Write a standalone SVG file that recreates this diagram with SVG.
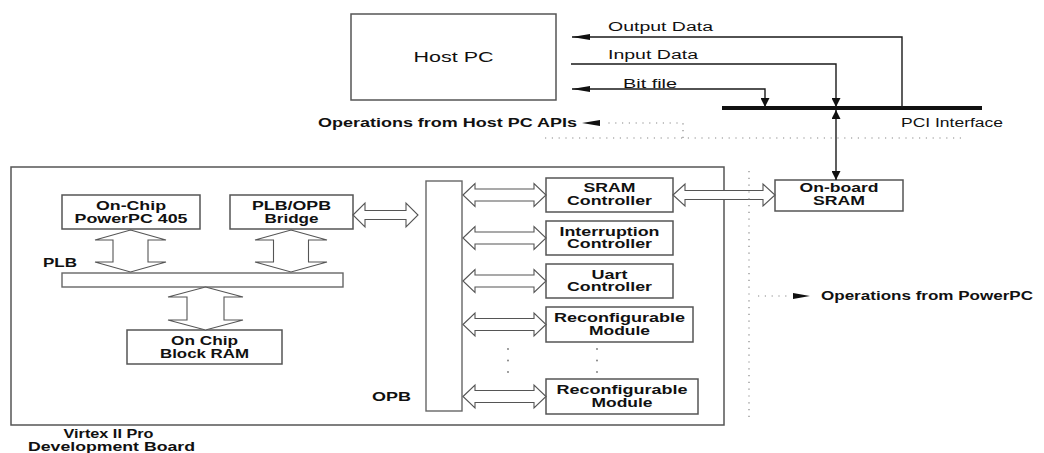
<svg xmlns="http://www.w3.org/2000/svg" width="1044" height="453" viewBox="0 0 1044 453">
  <style>
    .box { fill: #fff; stroke: #555; stroke-width: 1.5; }
    .bar { fill: #fff; stroke: #666; stroke-width: 1.4; }
    .wire { fill: none; stroke: #1a1a1a; stroke-width: 1.4; }
    .bus { fill: none; stroke: #111; stroke-width: 4; }
    .hollow { fill: #fff; stroke: #555; stroke-width: 1.1; stroke-linejoin: miter; }
    .dots { fill: none; stroke: #888; stroke-width: 1.2; stroke-dasharray: 1.2 5.6; }
    .head { fill: #111; }
    .pt { fill: #777; }
    text { font-family: "Liberation Sans", Arial, Helvetica, sans-serif; fill: #111; }
    .b { font-weight: bold; font-size: 12px; }
    .n { font-weight: normal; font-size: 12px; }
    .c { text-anchor: middle; }
  </style>
  <defs>
    <marker id="slim" viewBox="0 0 18 6" refX="18" refY="3" markerWidth="18" markerHeight="6" markerUnits="userSpaceOnUse" orient="auto-start-reverse">
      <path d="M0,0 L18,3 L0,6 Z" fill="#111"/>
    </marker>
    <marker id="tri" viewBox="0 0 9 9" refX="9" refY="4.5" markerWidth="9" markerHeight="9" markerUnits="userSpaceOnUse" orient="auto-start-reverse">
      <path d="M0,0 L9,4.5 L0,9 Z" fill="#111"/>
    </marker>
    <!-- hollow double arrow between the OPB bar and a peripheral, centred on y=0 -->
    <path id="opbLink" d="M463,0 L475,-11.5 L475,-6 L534,-6 L534,-11.5 L546,0 L534,11.5 L534,6 L475,6 L475,11.5 Z"/>
  </defs>

  <!-- host side -->
  <g id="host-pc">
    <rect class="box" x="351" y="14" width="205" height="86"/>
    <text class="n c" x="453.5" y="62" style="font-size:14px" textLength="80" lengthAdjust="spacingAndGlyphs">Host PC</text>
  </g>

  <g id="pci-interface">
    <line class="bus" x1="722" y1="108" x2="982" y2="108"/>
    <text class="n" x="901" y="127" textLength="102" lengthAdjust="spacingAndGlyphs">PCI Interface</text>
  </g>

  <!-- Virtex board -->
  <g id="virtex-board">
    <rect class="box" x="11" y="167" width="713" height="258"/>
    <text class="b c" x="108.5" y="438" textLength="90" lengthAdjust="spacingAndGlyphs">Virtex II Pro</text>
    <text class="b c" x="111.5" y="451" textLength="167" lengthAdjust="spacingAndGlyphs">Development Board</text>
  </g>

  <g id="powerpc">
    <rect class="box" x="62" y="195" width="138" height="34"/>
    <text class="b c" x="131" y="210" textLength="70" lengthAdjust="spacingAndGlyphs">On-Chip</text>
    <text class="b c" x="131" y="222.5" textLength="113" lengthAdjust="spacingAndGlyphs">PowerPC 405</text>
  </g>

  <g id="plb-opb-bridge">
    <rect class="box" x="230" y="195" width="123" height="34"/>
    <text class="b c" x="291.5" y="210" textLength="79" lengthAdjust="spacingAndGlyphs">PLB/OPB</text>
    <text class="b c" x="291.5" y="222.5" textLength="54" lengthAdjust="spacingAndGlyphs">Bridge</text>
  </g>

  <g id="plb">
    <rect class="bar" x="62" y="273" width="281" height="14"/>
    <text class="b" x="43" y="267" textLength="34" lengthAdjust="spacingAndGlyphs">PLB</text>
  </g>

  <g id="block-ram">
    <rect class="box" x="127" y="330" width="155" height="34"/>
    <text class="b c" x="204.5" y="345" textLength="67" lengthAdjust="spacingAndGlyphs">On Chip</text>
    <text class="b c" x="204.5" y="357.5" textLength="89" lengthAdjust="spacingAndGlyphs">Block RAM</text>
  </g>

  <g id="opb">
    <rect class="bar" x="426" y="181" width="36" height="230"/>
    <text class="b" x="411" y="401" text-anchor="end" textLength="39" lengthAdjust="spacingAndGlyphs">OPB</text>
  </g>

  <g id="sram-controller">
    <rect class="box" x="546" y="178" width="127" height="34"/>
    <text class="b c" x="609.5" y="192" textLength="52" lengthAdjust="spacingAndGlyphs">SRAM</text>
    <text class="b c" x="609.5" y="205" textLength="85" lengthAdjust="spacingAndGlyphs">Controller</text>
  </g>

  <g id="interruption-controller">
    <rect class="box" x="546" y="221" width="127" height="34"/>
    <text class="b c" x="609.5" y="235.5" textLength="100" lengthAdjust="spacingAndGlyphs">Interruption</text>
    <text class="b c" x="609.5" y="248" textLength="85" lengthAdjust="spacingAndGlyphs">Controller</text>
  </g>

  <g id="uart-controller">
    <rect class="box" x="546" y="264" width="127" height="34"/>
    <text class="b c" x="609.5" y="278.5" textLength="36" lengthAdjust="spacingAndGlyphs">Uart</text>
    <text class="b c" x="609.5" y="291" textLength="85" lengthAdjust="spacingAndGlyphs">Controller</text>
  </g>

  <g id="reconfigurable-module-1">
    <rect class="box" x="546" y="307" width="147" height="35"/>
    <text class="b c" x="619.5" y="322" textLength="131" lengthAdjust="spacingAndGlyphs">Reconfigurable</text>
    <text class="b c" x="619.5" y="334.5" textLength="61" lengthAdjust="spacingAndGlyphs">Module</text>
  </g>

  <g id="reconfigurable-module-n">
    <rect class="box" x="546" y="379" width="152" height="35"/>
    <text class="b c" x="622" y="394" textLength="131" lengthAdjust="spacingAndGlyphs">Reconfigurable</text>
    <text class="b c" x="622" y="406.5" textLength="61" lengthAdjust="spacingAndGlyphs">Module</text>
  </g>

  <g id="onboard-sram">
    <rect class="box" x="775" y="180" width="128" height="31"/>
    <text class="b c" x="839" y="192" textLength="79" lengthAdjust="spacingAndGlyphs">On-board</text>
    <text class="b c" x="839" y="205" textLength="52" lengthAdjust="spacingAndGlyphs">SRAM</text>
  </g>

  <!-- connectors -->
  <g id="connectors">
    <!-- host <-> PCI -->
    <path class="wire" d="M902,108 V37 H572" marker-end="url(#slim)"/>
    <path class="wire" d="M571,64 H836 V107" marker-end="url(#tri)"/>
    <path class="wire" d="M572,89 H765 V107" marker-start="url(#slim)" marker-end="url(#tri)"/>
    <path class="wire" d="M836,110 V180" marker-start="url(#tri)" marker-end="url(#tri)"/>
    <text class="n" x="608" y="31" textLength="105" lengthAdjust="spacingAndGlyphs">Output Data</text>
    <text class="n" x="608" y="59" textLength="90" lengthAdjust="spacingAndGlyphs">Input Data</text>
    <text class="n" x="623" y="88" textLength="54" lengthAdjust="spacingAndGlyphs">Bit file</text>

    <!-- PLB links -->
    <path class="hollow" d="M130.5,230 L166,240 L148,240 L148,262 L166,262 L130.5,272 L95,262 L113,262 L113,240 L95,240 Z"/>
    <path class="hollow" d="M291,230 L327,240 L308.5,240 L308.5,262 L327,262 L291,272 L255,262 L273.5,262 L273.5,240 L255,240 Z"/>
    <path class="hollow" d="M205.5,287 L243,297 L224,297 L224,320 L243,320 L205.5,330 L168,320 L187,320 L187,297 L168,297 Z"/>
    <!-- bridge to OPB -->
    <path class="hollow" d="M353,215 L365,203 L365,210.5 L406,210.5 L406,203 L418,215 L406,227 L406,219.5 L365,219.5 L365,227 Z"/>
    <!-- OPB to peripherals -->
    <use href="#opbLink" class="hollow" transform="translate(0,195)"/>
    <use href="#opbLink" class="hollow" transform="translate(0,238)"/>
    <use href="#opbLink" class="hollow" transform="translate(0,281)"/>
    <use href="#opbLink" class="hollow" transform="translate(0,324.5)"/>
    <use href="#opbLink" class="hollow" transform="translate(0,396.5)"/>
    <!-- SRAM controller to on-board SRAM -->
    <path class="hollow" d="M673,195 L685,184 L685,190.5 L763,190.5 L763,184 L775,195 L763,206 L763,199.5 L685,199.5 L685,206 Z"/>

    <!-- elided modules -->
    <circle class="pt" cx="508" cy="349" r="0.9"/>
    <circle class="pt" cx="508" cy="360.5" r="0.9"/>
    <circle class="pt" cx="508" cy="372" r="0.9"/>
    <circle class="pt" cx="597" cy="349" r="0.9"/>
    <circle class="pt" cx="597" cy="360.5" r="0.9"/>
    <circle class="pt" cx="597" cy="372" r="0.9"/>

    <!-- operation boundaries -->
    <path class="dots" d="M545,138 H962"/>
    <path class="dots" d="M683,138 V123 H606"/>
    <polygon class="head" points="582,123 600,120 600,126"/>
    <text class="b" x="318" y="127" textLength="259" lengthAdjust="spacingAndGlyphs">Operations from Host PC APIs</text>
    <path class="dots" d="M749,171 V420"/>
    <path class="dots" d="M758,296 H790"/>
    <polygon class="head" points="810,296 793,293 793,299"/>
    <text class="b" x="821" y="300" textLength="212" lengthAdjust="spacingAndGlyphs">Operations from PowerPC</text>
  </g>
</svg>
